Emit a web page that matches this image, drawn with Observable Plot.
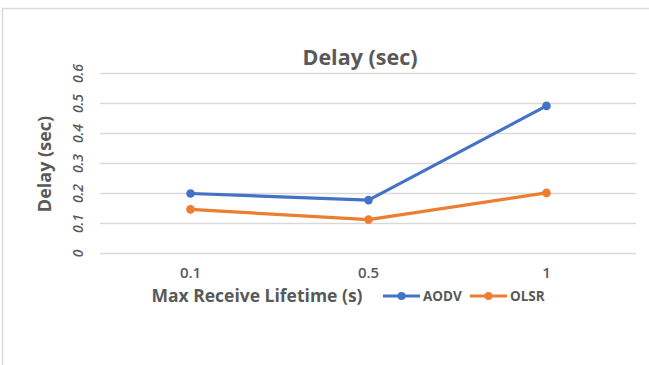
<!DOCTYPE html>
<html>
<head>
<meta charset="utf-8">
<script src="https://cdn.jsdelivr.net/npm/d3@7"></script>
<script src="https://cdn.jsdelivr.net/npm/@observablehq/plot@0.6"></script>
<style>
  html, body { margin: 0; padding: 0; background: #fff; }
  #chart svg { display: block; }
</style>
</head>
<body>
<div id="chart"></div>
<script>
// Max receive lifetime settings (s)
const lifetimes = ["0.1", "0.5", "1"];
// Average end-to-end delay (sec) per protocol
const aodvDelay = [0.2, 0.178, 0.492];
const olsrDelay = [0.147, 0.113, 0.202];
const yTicks = [0, 0.1, 0.2, 0.3, 0.4, 0.5, 0.6];

const series = [
  { name: "AODV", values: aodvDelay, color: "#4472C4" },
  { name: "OLSR", values: olsrDelay, color: "#ED7D31" }
];
const rows = series.flatMap(s =>
  s.values.map((v, i) => ({ protocol: s.name, lifetime: lifetimes[i], delay: v }))
);

const W = 649, H = 365;
const textColor = "#595959";
const font = "Open Sans, Liberation Sans, sans-serif";

const plot = Plot.plot({
  width: W,
  height: H,
  marginLeft: 100,
  marginRight: 13,
  marginTop: 73,
  marginBottom: 112,
  style: { fontFamily: font, color: textColor, background: "#fff" },
  x: { type: "point", domain: lifetimes, padding: 0.5, label: null },
  y: { domain: [0, 0.6], ticks: yTicks, label: null },
  color: { domain: series.map(s => s.name), range: series.map(s => s.color) },
  marks: [
    Plot.gridY(yTicks, { stroke: "#d9d9d9", strokeOpacity: 1, strokeWidth: 1.3 }),
    Plot.axisY(yTicks, {
      tickSize: 0, tickPadding: 18, tickRotate: -90, fontSize: 14,
      fontStyle: "italic", fontWeight: 600, fill: textColor, label: null,
      tickFormat: d => String(d)
    }),
    Plot.axisX({ tickSize: 0, tickPadding: 14, fontSize: 15, fontWeight: 600, fill: textColor, label: null }),
    Plot.line(rows, { x: "lifetime", y: "delay", z: "protocol", stroke: "protocol", strokeWidth: 3.2 }),
    Plot.dot(rows, { x: "lifetime", y: "delay", fill: "protocol", r: 4.3 })
  ]
});
document.getElementById("chart").appendChild(plot);

const svg = d3.select(plot);

// Chart frame (top and left edges)
svg.append("path")
  .attr("d", `M2.5,${H} V8.5 H${W}`)
  .attr("fill", "none").attr("stroke", "#d9d9d9").attr("stroke-width", 1.5);

// Title
svg.append("text")
  .attr("x", 360).attr("y", 65).attr("text-anchor", "middle")
  .attr("font-family", font).attr("font-size", 21.5).attr("font-weight", "bold")
  .attr("fill", textColor).text("Delay (sec)");

// Y axis title
svg.append("text")
  .attr("transform", "translate(51,164) rotate(-90)").attr("text-anchor", "middle")
  .attr("font-family", font).attr("font-size", 18).attr("font-weight", "bold")
  .attr("fill", textColor).text("Delay (sec)");

// X axis title
svg.append("text")
  .attr("x", 257).attr("y", 302).attr("text-anchor", "middle")
  .attr("font-family", font).attr("font-size", 17.5).attr("font-weight", "bold")
  .attr("fill", textColor).text("Max Receive Lifetime (s)");

// Legend
const legendX = [383, 470];
series.forEach((s, i) => {
  const g = svg.append("g").attr("transform", `translate(${legendX[i]},296)`);
  g.append("line").attr("x1", 0).attr("x2", 37).attr("y1", 0).attr("y2", 0)
    .attr("stroke", s.color).attr("stroke-width", 3.2);
  g.append("circle").attr("cx", 18.5).attr("cy", 0).attr("r", 4).attr("fill", s.color);
  g.append("text").attr("x", 40).attr("y", 5).attr("text-anchor", "start")
    .attr("font-family", font).attr("font-size", 13.5).attr("font-weight", "bold")
    .attr("fill", textColor).text(s.name);
});
</script>
</body>
</html>
